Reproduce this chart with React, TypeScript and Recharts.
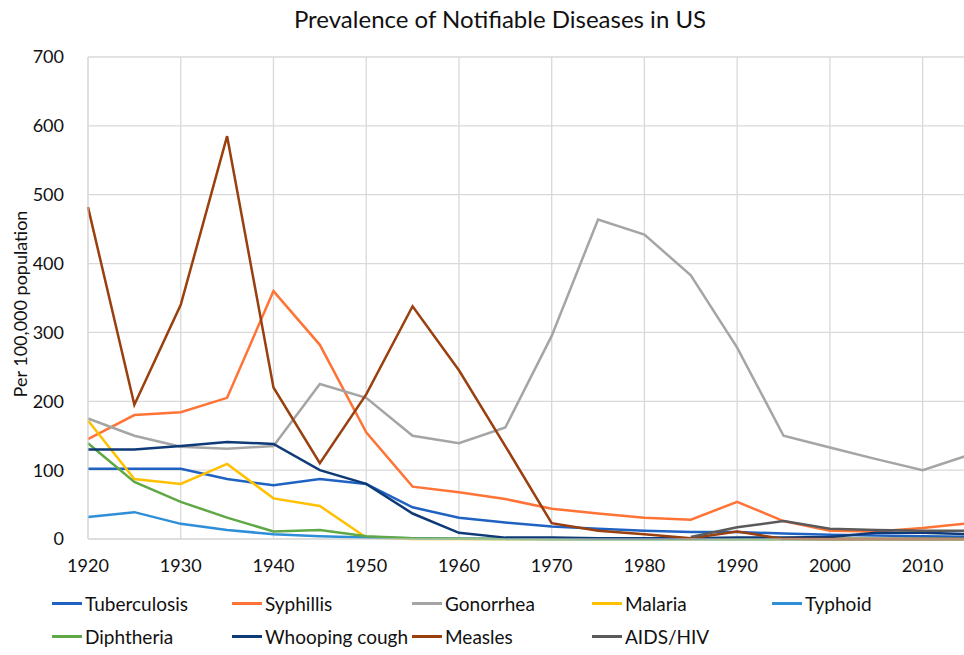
import React from "react";
import { LineChart, Line, XAxis, YAxis, CartesianGrid } from "recharts";

const years = [1920, 1925, 1930, 1935, 1940, 1945, 1950, 1955, 1960, 1965, 1970, 1975, 1980, 1985, 1990, 1995, 2000, 2005, 2010, 2015];

const tuberculosis = [102, 102, 102, 87, 78, 87, 80, 46, 31, 24, 18, 15, 12, 10, 10, 8, 6, 5, 4, 3];
const syphillis = [145, 180, 184, 205, 360, 282, 155, 76, 68, 58, 44, 37, 31, 28, 54, 26, 12, 11, 16, 23];
const gonorrhea = [175, 150, 134, 131, 135, 225, 205, 150, 139, 162, 295, 464, 442, 383, 278, 150, 133, 116, 100, 122];
const malaria = [172, 87, 80, 109, 59, 48, 2, 0, 0, 0, 0, 0, 0, 0, 0, 0, 0, 0, 0, 0];
const typhoid = [32, 39, 22, 13, 7, 4, 2, 1, 0.5, 0.2, 0, 0, 0, 0, 0, 0, 0, 0, 0, 0];
const diphtheria = [139, 83, 54, 31, 11, 13, 4, 1, 0.5, 0, 0, 0, 0, 0, 0, 0, 0, 0, 0, 0];
const whoopingCough = [130, 130, 135, 141, 138, 100, 80, 37, 9, 2, 2, 1, 1, 1, 2, 2, 3, 9, 9, 7];
const measles = [482, 195, 340, 585, 220, 110, 210, 338, 245, 135, 23, 12, 7, 1, 11, 0.2, 0, 0, 0, 0];
const aidsHiv = [null, null, null, null, null, null, null, null, null, null, null, null, null, 3, 17, 26, 15, 13, 12, 12];

const xTicks = [1920, 1930, 1940, 1950, 1960, 1970, 1980, 1990, 2000, 2010];
const yTicks = [0, 100, 200, 300, 400, 500, 600, 700];

const series = [
  { key: "tuberculosis", name: "Tuberculosis", values: tuberculosis, color: "#1F62C1" },
  { key: "syphillis", name: "Syphillis", values: syphillis, color: "#FF7436" },
  { key: "gonorrhea", name: "Gonorrhea", values: gonorrhea, color: "#A5A5A5" },
  { key: "malaria", name: "Malaria", values: malaria, color: "#FFC000" },
  { key: "typhoid", name: "Typhoid", values: typhoid, color: "#2E8FD8" },
  { key: "diphtheria", name: "Diphtheria", values: diphtheria, color: "#5FA845" },
  { key: "whoopingCough", name: "Whooping cough", values: whoopingCough, color: "#0E3B78" },
  { key: "measles", name: "Measles", values: measles, color: "#9A3F0E" },
  { key: "aidsHiv", name: "AIDS/HIV", values: aidsHiv, color: "#5A5A5A" },
];

const data = years.map((year, i) => {
  const row: Record<string, number | null> = { year };
  series.forEach((s) => {
    row[s.key] = s.values[i];
  });
  return row;
});

const font = "Lato, 'Open Sans', sans-serif";

export default function App() {
  return (
    <div
      style={{
        position: "absolute",
        left: 0,
        top: 0,
        width: 964,
        height: 655,
        overflow: "hidden",
        background: "#fff",
        fontFamily: font,
      }}
    >
      <div
        style={{
          position: "absolute",
          top: 4,
          left: 0,
          width: 1000,
          textAlign: "center",
          fontSize: 24,
          color: "#111",
        }}
      >
        Prevalence of Notifiable Diseases in US
      </div>
      <div
        style={{
          position: "absolute",
          left: 20,
          top: 304,
          transform: "translate(-50%, -50%) rotate(-90deg)",
          whiteSpace: "nowrap",
          fontSize: 18,
          color: "#111",
        }}
      >
        Per 100,000 population
      </div>
      <LineChart
        width={975}
        height={580}
        data={data}
        margin={{ top: 57, right: 6, bottom: 6, left: 28 }}
      >
        <CartesianGrid stroke="#d9d9d9" strokeWidth={1.3} />
        <XAxis
          dataKey="year"
          type="number"
          domain={[1920, 2015]}
          ticks={xTicks}
          height={35}
          tick={{ fill: "#111", fontSize: 18, fontFamily: font }}
          tickLine={false}
          axisLine={{ stroke: "#d9d9d9" }}
          tickMargin={14}
        />
        <YAxis
          type="number"
          domain={[0, 700]}
          ticks={yTicks}
          width={60}
          tick={{ fill: "#111", fontSize: 18, fontFamily: font }}
          tickLine={false}
          axisLine={{ stroke: "#d9d9d9" }}
          tickMargin={18}
        />
        {series.map((s) => (
          <Line
            key={s.key}
            type="linear"
            dataKey={s.key}
            name={s.name}
            stroke={s.color}
            strokeWidth={2.5}
            dot={false}
            isAnimationActive={false}
          />
        ))}
      </LineChart>
      <div
        style={{
          position: "absolute",
          left: 52,
          top: 592,
          width: 920,
          display: "flex",
          flexWrap: "wrap",
          rowGap: 10,
        }}
      >
        {series.map((s) => (
          <div
            key={s.key}
            style={{
              width: 180,
              flexShrink: 0,
              display: "flex",
              alignItems: "center",
              fontSize: 19,
              color: "#111",
              whiteSpace: "nowrap",
            }}
          >
            <span
              style={{ display: "inline-block", flexShrink: 0, width: 30, height: 3, background: s.color, marginRight: 3 }}
            />
            {s.name}
          </div>
        ))}
      </div>
    </div>
  );
}
